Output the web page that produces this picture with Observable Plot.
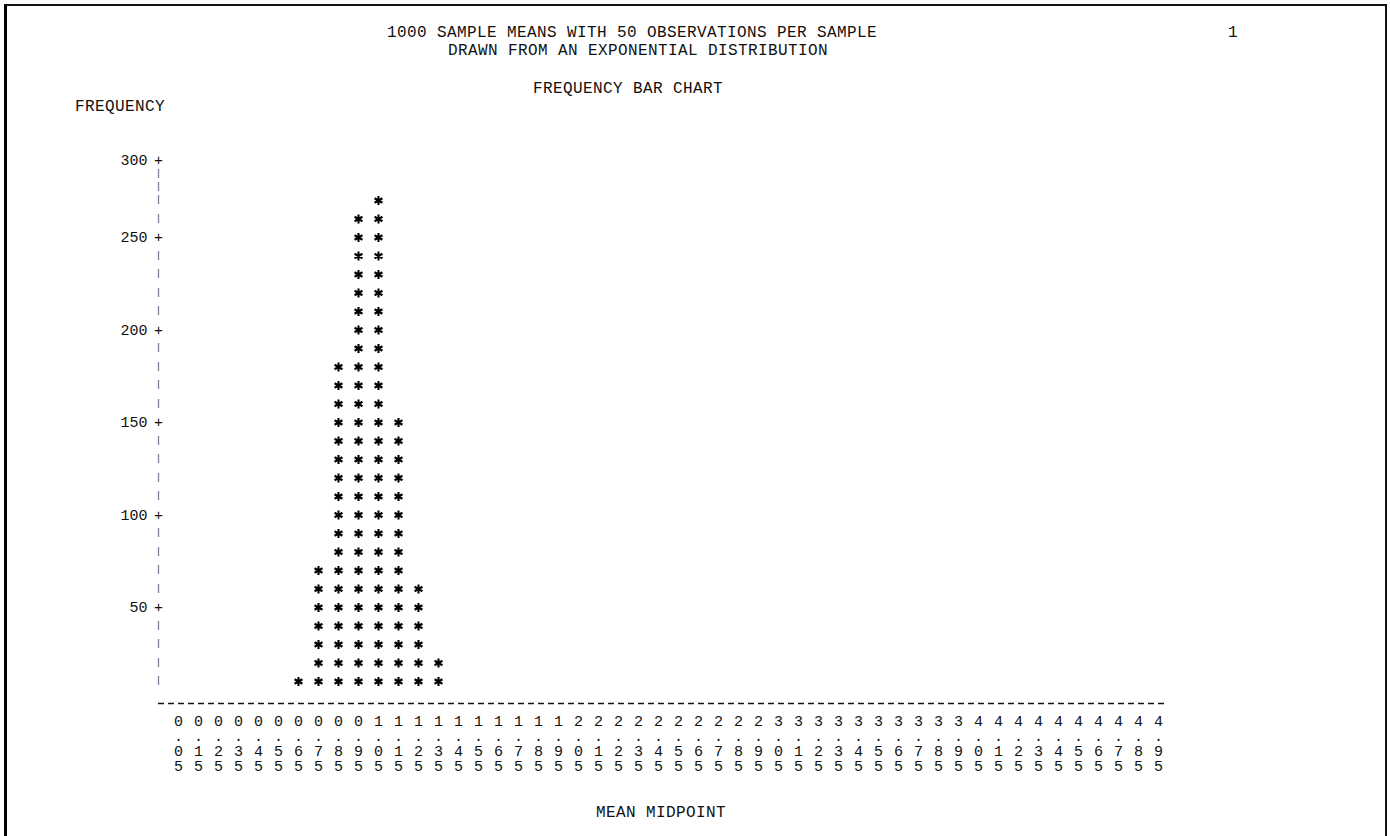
<!DOCTYPE html>
<html><head><meta charset="utf-8">
<script src="https://cdn.jsdelivr.net/npm/d3@7"></script>
<script src="https://cdn.jsdelivr.net/npm/@observablehq/plot@0.6"></script>
<style>
body{margin:0;background:#fff;}
#page{position:relative;width:1390px;height:836px;overflow:hidden;background:#fff;}
#frame{position:absolute;left:4px;top:4px;width:1378px;height:900px;border-left:3px solid #000;border-top:2px solid #111;border-right:2px solid #111;}
.t{position:absolute;font-family:"Liberation Mono",monospace;font-size:16px;letter-spacing:0.4px;white-space:pre;color:#111;line-height:18px;}
#chart svg{position:absolute;left:0;top:0;}
</style></head><body>
<div id="page">
<div id="frame"></div>
<div id="chart"></div>
<div class="t" style="left:387px;top:24px">1000 SAMPLE MEANS WITH 50 OBSERVATIONS PER SAMPLE</div>
<div class="t" style="left:448px;top:42px">DRAWN FROM AN EXPONENTIAL DISTRIBUTION</div>
<div class="t" style="left:533px;top:80px">FREQUENCY BAR CHART</div>
<div class="t" style="left:1228px;top:24px">1</div>
<div class="t" style="left:75px;top:98px">FREQUENCY</div>
<div class="t" style="left:596px;top:804px">MEAN MIDPOINT</div>
</div>
<script>
// Midpoints of the mean classes (x axis categories)
const midpoints = [0.05,0.15,0.25,0.35,0.45,0.55,0.65,0.75,0.85,0.95,
  1.05,1.15,1.25,1.35,1.45,1.55,1.65,1.75,1.85,1.95,
  2.05,2.15,2.25,2.35,2.45,2.55,2.65,2.75,2.85,2.95,
  3.05,3.15,3.25,3.35,3.45,3.55,3.65,3.75,3.85,3.95,
  4.05,4.15,4.25,4.35,4.45,4.55,4.65,4.75,4.85,4.95];
// Bars with non-zero frequencies
const barMids = [0.65,0.75,0.85,0.95,1.05,1.15,1.25,1.35];
const freqs   = [7,71,176,258,269,147,56,16];
// Y axis tick labels and the in-between row marks
const yMajor = [50,100,150,200,250,300];
const yMinor = [10,20,30,40,60,70,80,90,110,120,130,140,160,170,180,190,210,220,230,240,260,270,280,290];
const rowUnit = 10; // each printed row = 10 observations

const stars = [];
barMids.forEach((m, i) => {
  const n = Math.round(freqs[i] / rowUnit);
  for (let k = 1; k <= n; k++) stars.push({x: m, y: k * rowUnit});
});

const mono = "Liberation Mono, monospace";
const chart = Plot.plot({
  width: 1390, height: 836,
  marginLeft: 158, marginRight: 222, marginTop: 160, marginBottom: 136.5,
  x: {type: "linear", domain: [-0.05, 5.0], axis: null},
  y: {type: "linear", domain: [0, 270, 300], range: [699.5, 200, 160], axis: null},
  style: {fontFamily: mono, background: "transparent", color: "#111"},
  marks: [
    Plot.ruleY([0], {stroke: "#111", strokeWidth: 1.5, strokeDasharray: "6,4", dy: 3.5}),
    Plot.text(yMajor, {y: d => d, text: d => String(d), frameAnchor: "left", textAnchor: "end", dx: -11, fontSize: 15, fill: "#111"}),
    Plot.text(yMajor, {y: d => d, text: () => "+", frameAnchor: "left", textAnchor: "middle", fontSize: 15, fill: "#111"}),
    Plot.text(yMinor, {y: d => d, text: () => "|", frameAnchor: "left", textAnchor: "middle", fontSize: 9, fill: "#333", dy: -1}),
    Plot.text(midpoints, {x: d => d, text: d => d3.format(".2f")(d).split("").join("\n"),
      frameAnchor: "bottom", lineAnchor: "top", dy: 15, lineHeight: 1.0, fontSize: 15, fill: "#111"}),
    Plot.dot(stars, {x: "x", y: "y", symbol: "asterisk", r: 4.3, stroke: "#000", strokeWidth: 2.1})
  ]
});
document.getElementById("chart").appendChild(chart);
</script>
</body></html>
